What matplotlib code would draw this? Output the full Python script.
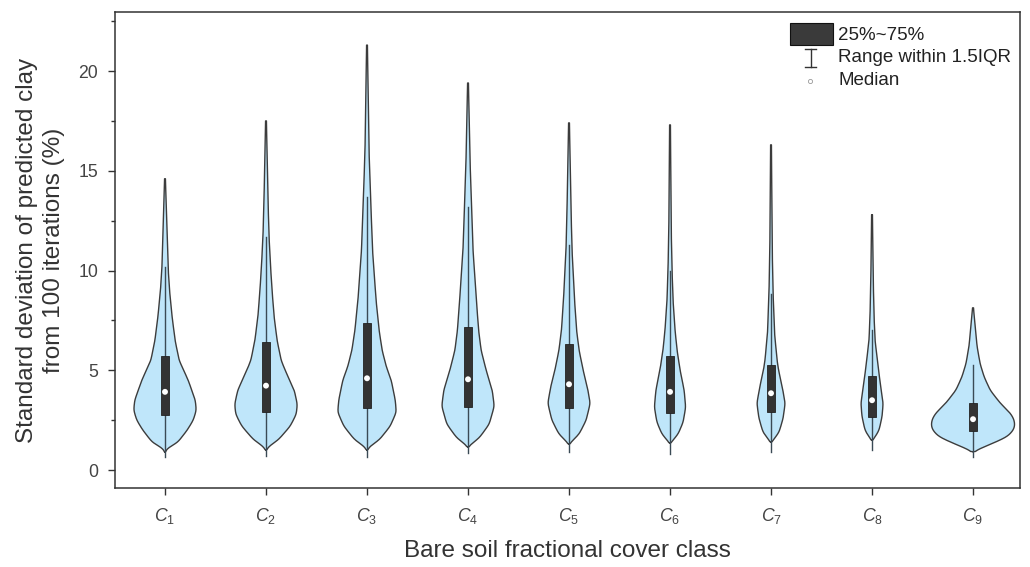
import numpy as np
import matplotlib
matplotlib.use('Agg')
import matplotlib.pyplot as plt
from matplotlib.patches import Rectangle
from matplotlib.lines import Line2D

plt.rcParams['font.family'] = ['Liberation Sans', 'DejaVu Sans']
plt.rcParams['mathtext.fontset'] = 'custom'
plt.rcParams['mathtext.it'] = 'Liberation Sans:italic'
plt.rcParams['mathtext.rm'] = 'Liberation Sans'

# 类别与箱线统计量
classes = [r'$C_{\mathit{1}}$', r'$C_{\mathit{2}}$', r'$C_{\mathit{3}}$', r'$C_{\mathit{4}}$',
           r'$C_{\mathit{5}}$', r'$C_{\mathit{6}}$', r'$C_{\mathit{7}}$', r'$C_{\mathit{8}}$',
           r'$C_{\mathit{9}}$']
q1 = [2.76, 2.90, 3.10, 3.17, 3.10, 2.87, 2.90, 2.67, 1.97]
med = [3.92, 4.23, 4.60, 4.55, 4.30, 3.92, 3.85, 3.50, 2.55]
q3 = [5.71, 6.43, 7.37, 7.17, 6.30, 5.71, 5.26, 4.71, 3.35]
w_lo = [0.65, 0.70, 0.65, 0.85, 0.90, 0.80, 0.92, 1.00, 0.67]
w_hi = [10.2, 11.7, 13.7, 13.2, 11.3, 10.0, 8.8, 7.0, 5.26]

# 小提琴轮廓: (y, 半宽) 读自原图
profiles = [
    [(0.9, 0), (1.1, .02), (1.35, .12), (2.0, .22), (2.5, .28), (3.0, .31), (3.5, .30), (4.5, .23),
     (5.5, .14), (6.5, .10), (7.7, .07), (9.0, .045), (10.2, .03), (12.0, .02), (14.6, .004)],
    [(1.0, 0), (1.2, .03), (1.5, .12), (2.2, .24), (2.8, .30), (3.3, .31), (4.0, .28), (5.0, .19),
     (5.5, .15), (6.5, .11), (7.7, .08), (9.0, .06), (10.2, .045), (11.7, .03), (13.5, .02), (17.5, .004)],
    [(1.0, 0), (1.2, .03), (1.5, .12), (2.2, .23), (2.9, .29), (3.5, .28), (4.5, .24), (5.2, .19),
     (6.0, .15), (7.0, .12), (8.5, .09), (11.0, .055), (13.7, .035), (16.0, .02), (21.3, .004)],
    [(1.15, 0), (1.3, .03), (1.6, .11), (2.3, .21), (3.2, .26), (4.0, .24), (5.0, .18), (6.0, .13),
     (7.0, .105), (8.5, .083), (11.0, .05), (13.2, .035), (15.5, .02), (19.4, .004)],
    [(1.3, 0), (1.45, .03), (1.8, .10), (2.5, .17), (3.35, .21), (4.2, .18), (5.0, .14), (6.0, .10),
     (7.0, .075), (8.5, .055), (11.0, .03), (13.0, .02), (17.4, .004)],
    [(1.35, 0), (1.5, .03), (1.8, .08), (2.4, .13), (3.15, .155), (4.0, .14), (5.0, .10), (6.0, .07),
     (7.0, .05), (8.5, .03), (10.0, .02), (12.0, .012), (17.3, .004)],
    [(1.4, 0), (1.55, .03), (1.9, .08), (2.6, .12), (3.35, .14), (4.2, .11), (5.0, .075), (5.5, .06),
     (6.85, .035), (8.9, .02), (11.0, .012), (16.3, .004)],
    [(1.5, 0), (1.65, .03), (2.0, .07), (2.7, .10), (3.35, .11), (4.2, .085), (5.2, .06), (6.5, .03),
     (7.7, .02), (9.5, .012), (12.8, .004)],
    [(0.92, 0), (1.1, .08), (1.35, .20), (1.67, .34), (2.0, .40), (2.25, .415), (2.55, .405), (2.85, .37),
     (3.35, .27), (4.0, .17), (4.67, .11), (5.33, .07), (6.2, .04), (7.0, .025), (8.13, .004)],
]

fig = plt.figure(figsize=(10.3, 5.67), dpi=100)
ax = fig.add_axes([115 / 1030, 1 - 488 / 567, 905 / 1030, 476 / 567])

fill_c = '#bfe6fa'
edge_c = '#3c3c3c'
box_c = '#333333'
txt_c = '#333333'

for i, prof in enumerate(profiles):
    x0 = i + 1
    py = np.array([p[0] for p in prof])
    pw = np.array([p[1] for p in prof])
    yy = np.linspace(py[0], py[-1], 600)
    ww = np.interp(yy, py, pw)
    # 平滑轮廓
    dy = yy[1] - yy[0]
    sig = 0.12 / dy
    k = np.arange(-int(3 * sig) - 1, int(3 * sig) + 2)
    ker = np.exp(-0.5 * (k / sig) ** 2)
    ker /= ker.sum()
    pad = len(k) // 2
    wp = np.concatenate([np.full(pad, ww[0]), ww, np.full(pad, ww[-1])])
    ws = np.convolve(wp, ker, mode='valid')
    ws[0] = 0
    ax.fill_betweenx(yy, x0 - ws, x0 + ws, facecolor=fill_c, edgecolor='none', zorder=2)
    ax.plot(np.concatenate([x0 - ws, (x0 + ws)[::-1]]), np.concatenate([yy, yy[::-1]]),
            color=edge_c, lw=1.0, zorder=3)
    # 须线
    ax.plot([x0, x0], [w_lo[i], w_hi[i]], color='#3a4a55', lw=1.0, zorder=4)
    # 箱体
    ax.add_patch(Rectangle((x0 - 0.04, q1[i]), 0.08, q3[i] - q1[i], facecolor=box_c,
                           edgecolor='#222222', lw=0.6, zorder=5))
    ax.scatter([x0], [med[i]], s=18, color='white', edgecolors='none', zorder=6)

ax.set_xlim(0.505, 9.465)
ax.set_ylim(-0.9, 22.96)
ax.set_xticks(range(1, 10))
ax.set_xticklabels(classes, fontsize=14.5, color='#444444')
ax.set_yticks([0, 5, 10, 15, 20])
ax.set_yticks(np.arange(2.5, 22.6, 5), minor=True)
ax.tick_params(axis='both', which='major', direction='out', length=5, width=1, colors=txt_c,
               labelsize=12.7, labelcolor='#444444')
ax.tick_params(axis='y', which='minor', direction='out', length=3, width=1, colors=txt_c)
ax.tick_params(axis='y', which='major', pad=7)
ax.tick_params(axis='x', pad=8)
for s in ax.spines.values():
    s.set_linewidth(1.1)
    s.set_color(txt_c)

ax.set_xlabel('Bare soil fractional cover class', fontsize=17.5, color=txt_c, labelpad=10)
ax.set_ylabel('Standard deviation of predicted clay\nfrom 100 iterations (%)', fontsize=17.5,
              color=txt_c, labelpad=10, linespacing=1.25)


# 图例 (手动绘制)
def fx(px):
    return px / 1030


def fy(py):
    return 1 - py / 567


fig.patches.append(Rectangle((fx(790), fy(45)), fx(833) - fx(790), fy(23) - fy(45),
                             facecolor='#3a3a3a', edgecolor='#111111', lw=0.8,
                             transform=fig.transFigure, figure=fig))
fig.lines.append(Line2D([fx(810.5), fx(810.5)], [fy(49), fy(67)], color=txt_c, lw=1.0,
                        transform=fig.transFigure, figure=fig))
fig.lines.append(Line2D([fx(805), fx(816)], [fy(49), fy(49)], color=txt_c, lw=1.0,
                        transform=fig.transFigure, figure=fig))
fig.lines.append(Line2D([fx(805), fx(816)], [fy(67), fy(67)], color=txt_c, lw=1.0,
                        transform=fig.transFigure, figure=fig))
fig.lines.append(Line2D([fx(810)], [fy(81)], marker='o', markersize=3, markerfacecolor='white',
                        markeredgecolor='#999999', markeredgewidth=0.6, linestyle='none',
                        transform=fig.transFigure, figure=fig))
fig.text(fx(838), fy(35), '25%~75%', fontsize=13.5, va='center', color='#222222')
fig.text(fx(838), fy(58), 'Range within 1.5IQR', fontsize=13.5, va='center', color='#222222')
fig.text(fx(838), fy(81), 'Median', fontsize=13.5, va='center', color='#222222')

fig.savefig('out.png', dpi=100)
